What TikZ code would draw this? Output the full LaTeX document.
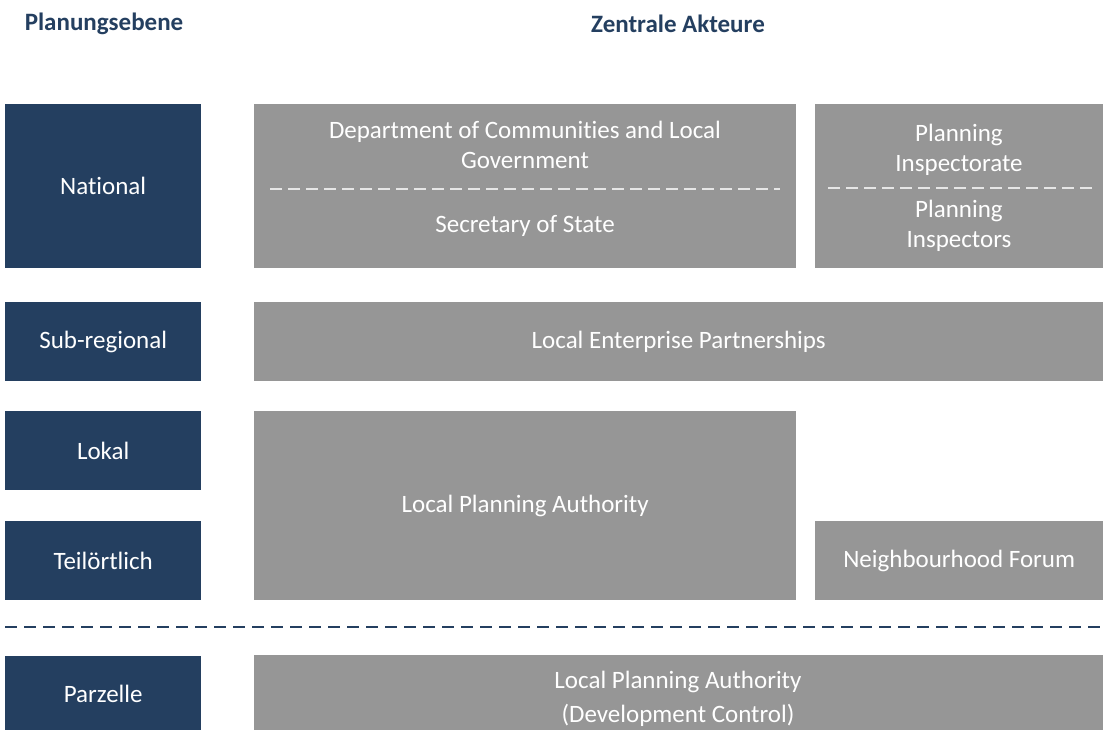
\documentclass[tikz,border=0pt]{standalone}
\usepackage{fontspec}
\setmainfont[Ligatures=NoCommon]{Carlito}
\usepackage{xcolor}
\definecolor{lvl}{HTML}{243F60}
\definecolor{act}{HTML}{969696}
\definecolor{sep}{HTML}{E6E6E6}
\usetikzlibrary{positioning}

\begin{document}
\begin{tikzpicture}[x=1pt, y=-1pt,
                    every node/.style = {inner sep=0pt, font=\fontsize{25}{30}\selectfont, align=center},
                    head/.style = {text=lvl, font=\fontsize{25}{30}\selectfont\bfseries},
                    level/.style = {fill=lvl, text=white, anchor=north west, minimum width=196pt},
                    actor/.style = {fill=act, text=white, anchor=north west},
                    label/.style = {text=white},
                    sepline/.style = {draw=sep, line width=1.5pt, dash pattern=on 12pt off 6pt},
                    border/.style = {draw=lvl, line width=1.6pt, dash pattern=on 12pt off 7pt}]
                \useasboundingbox (0,0) rectangle (1103,729);
                % headings
                \node (hlevel) [head] at (104,23.5) {Planungsebene};
                \node (hactor) [head] at (678,23.5) {Zentrale Akteure};
                % planning levels
                \node (national) [level, minimum height=164pt] at (5,104) {National};
                \node (subreg) [level, minimum height=79pt] at (5,302) {Sub-regional};
                \node (lokal) [level, minimum height=79pt] at (5,411) {Lokal};
                \node (teil) [level, minimum height=79pt] at (5,521) {Teilörtlich};
                \node (parz) [level, minimum height=76pt] at (5,656) {Parzelle};
                % actors
                \node (dclg) [actor, minimum width=542pt, minimum height=164pt] at (254,104) {};
                \node (dclgtext) [label] at (525,145) {Department of Communities and Local\\Government};
                \node (sos) [label] at (525,226) {Secretary of State};
                \node (pins) [actor, minimum width=288pt, minimum height=164pt] at (815,104) {};
                \node (pinstext) [label] at (959,149.5) {Planning\\Inspectorate};
                \node (pinspec) [label] at (959,226) {Planning\\Inspectors};
                \node (lep) [actor, minimum width=849pt, minimum height=79pt] at (254,302) {Local Enterprise Partnerships};
                \node (lpa) [actor, minimum width=542pt, minimum height=189pt] at (254,411) {Local Planning Authority};
                \node (forum) [actor, minimum width=288pt, minimum height=79pt] at (815,521) {Neighbourhood Forum};
                \node (dc) [actor, minimum width=849pt, minimum height=84pt] at (254,655) {};
                \node (dctext) [label, font=\fontsize{25}{34}\selectfont] at (678,699) {Local Planning Authority\\(Development Control)};
                % separators
                \coordinate (s1a) at (270,189);
                \coordinate (s1b) at (780,189);
                \coordinate (s2a) at (828,188);
                \coordinate (s2b) at (1092,188);
                \coordinate (b1) at (5,627);
                \coordinate (b2) at (1103,627);
                \draw [sepline] (s1a) -- (s1b);
                \draw [sepline] (s2a) -- (s2b);
                \draw [border] (b1) -- (b2);
\end{tikzpicture}
\end{document}
